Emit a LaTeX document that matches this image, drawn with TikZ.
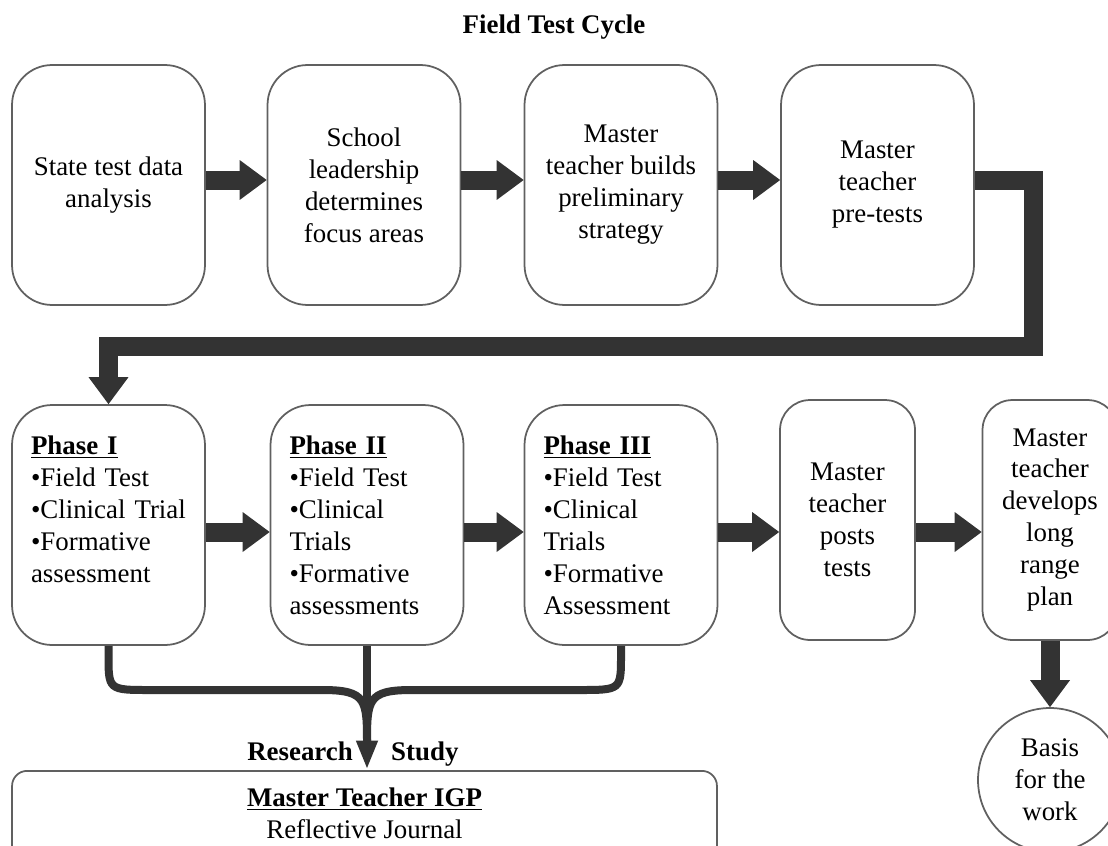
\documentclass[tikz,border=0pt]{standalone}
\usepackage{fontspec}
\setmainfont{Liberation Serif}
\usetikzlibrary{arrows.meta}
\definecolor{fatgray}{HTML}{333333}
\definecolor{edgegray}{HTML}{606060}
\begin{document}
\begin{tikzpicture}
  [x=0.02cm,y=-0.02cm,
   every node/.style={font=\fontsize{15.3}{18.2}\selectfont},
   box/.style={draw=edgegray,line width=1pt,rounded corners=0.8cm,
     minimum width=3.86cm,minimum height=4.8cm,align=center,inner sep=0pt},
   slim/.style={box,minimum width=2.7cm,rounded corners=0.6cm},
   phase/.style={box,align=left,text width=3.1cm},
   fatarrow/.style={draw=fatgray,line width=0.38cm,line join=miter,
     -{Triangle[width=0.8cm,length=0.54cm,line width=0pt]}},
   brace/.style={draw=fatgray,line width=0.16cm}]
  \useasboundingbox (0,0) rectangle (1108,845);

  \node[font=\bfseries\fontsize{15.3}{18.2}\selectfont] (title) at (554,27) {Field Test Cycle};

  % top row
  \node[box] (s1) at (108.5,185) {State test data\\analysis};
  \node[box] (s2) at (364,185) {School\\leadership\\determines\\focus areas};
  \node[box] (s3) at (621,185) {Master\\teacher builds\\preliminary\\strategy};
  \node[box] (s4) at (877.5,185) {Master\\teacher\\pre-tests};

  % bottom row
  \node[phase] (p1) at (108.5,525) {\underline{\textbf{Phase I}}\\\textbullet Field Test\\\mbox{\textbullet Clinical Trial}\\\textbullet Formative\\assessment\\~};
  \node[phase] (p2) at (367,525) {\underline{\textbf{Phase II}}\\\textbullet Field Test\\\textbullet Clinical\\Trials\\\textbullet Formative\\assessments};
  \node[phase] (p3) at (621,525) {\underline{\textbf{Phase III}}\\\textbullet Field Test\\\textbullet Clinical\\Trials\\\textbullet Formative\\Assessment};
  \node[slim] (posts) at (847.5,520) {Master\\teacher\\posts\\tests};
  \node[slim] (plan) at (1050,520) {Master\\teacher\\develops\\long\\range\\plan};
  \node[draw=edgegray,line width=1pt,circle,minimum size=2.88cm,inner sep=0pt,align=center] (basis) at (1050,780) {Basis\\for the\\work};

  % journal box
  \node[draw=edgegray,line width=1pt,rounded corners=0.3cm,anchor=north,
    minimum width=14.1cm,minimum height=3cm] (igp) at (364.5,770) {};
  \node[align=center] (igptext) at (364.5,813) {\underline{\textbf{Master Teacher IGP}}\\Reflective Journal};
  \node[font=\bfseries\fontsize{15.3}{18.2}\selectfont,anchor=base east] (resl) at (359,760) {Research};
  \node[font=\bfseries\fontsize{15.3}{18.2}\selectfont,anchor=base west] (resr) at (385,760) {Study};

  \coordinate (rowa) at (0,180);
  \coordinate (rowb) at (0,532);
  \coordinate (bend) at (1033,346);
  \coordinate (tip) at (367,768);

  \foreach \from/\to in {s1/s2,s2/s3,s3/s4}
    \draw[fatarrow] (\from.east |- rowa) -- (\to.west |- rowa);
  \foreach \from/\to in {p1/p2,p2/p3,p3/posts,posts/plan}
    \draw[fatarrow] (\from.east |- rowb) -- (\to.west |- rowb);
  \draw[fatarrow] (s4.east |- rowa) -| (bend) -| (p1.north);
  \draw[fatarrow] (plan.south) -- (basis.north);

  \draw[brace] (p1.south) -- (108.5,655) .. controls (108.5,690) .. (150,690)
    -- (322,690) .. controls (367,690) and (367,700) .. (367,745);
  \draw[brace] (p3.south) -- (621,655) .. controls (621,690) .. (579,690)
    -- (412,690) .. controls (367,690) and (367,700) .. (367,745);
  \draw[brace,-{Triangle[width=0.45cm,length=0.55cm,line width=0pt]}] (p2.south) -- (tip);

\end{tikzpicture}
\end{document}
